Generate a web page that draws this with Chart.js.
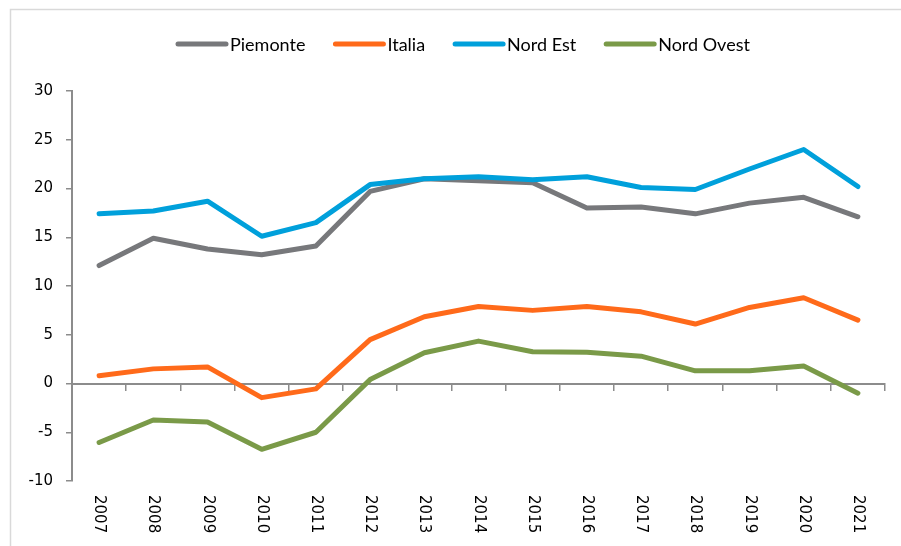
<!DOCTYPE html>
<html>
<head>
<meta charset="utf-8">
<script src="https://cdn.jsdelivr.net/npm/chart.js@4/dist/chart.umd.min.js"></script>
<style>
  body { margin: 0; background: #fff; }
  #box { width: 901px; height: 546px; position: relative; }
</style>
</head>
<body>
<div id="box"><canvas id="grafico"></canvas></div>
<script>
// anni e serie
var anni = ['2007','2008','2009','2010','2011','2012','2013','2014','2015','2016','2017','2018','2019','2020','2021'];
var piemonte  = [12.1, 14.9, 13.8, 13.2, 14.1, 19.7, 21.0, 20.8, 20.6, 18.0, 18.1, 17.4, 18.5, 19.1, 17.1];
var italia    = [0.8, 1.5, 1.7, -1.45, -0.55, 4.5, 6.85, 7.9, 7.5, 7.9, 7.35, 6.1, 7.8, 8.8, 6.5];
var nordEst   = [17.4, 17.7, 18.7, 15.1, 16.5, 20.4, 21.0, 21.2, 20.9, 21.2, 20.1, 19.9, 22.0, 24.0, 20.2];
var nordOvest = [-6.05, -3.75, -3.95, -6.75, -5.0, 0.4, 3.15, 4.35, 3.25, 3.2, 2.8, 1.3, 1.3, 1.8, -1.0];
var yMin = -10, yMax = 30, yStep = 5;

var coloreAsse = '#8c8c8c';

function serie(nome, dati, colore, ordine) {
    return {
        label: nome,
        data: dati,
        borderColor: colore,
        backgroundColor: colore,
        borderWidth: 5,
        borderCapStyle: 'round',
        borderJoinStyle: 'round',
        pointRadius: 0,
        pointHoverRadius: 0,
        tension: 0,
        order: ordine
    };
}

// cornice esterna grigia
var cornice = {
    id: 'cornice',
    beforeDraw: function(chart) {
        var ctx = chart.ctx;
        ctx.save();
        ctx.strokeStyle = '#d9d9d9';
        ctx.lineWidth = 1.5;
        ctx.strokeRect(10.5, 9.5, 1000, 1000);
        ctx.restore();
    }
};

// etichette asse x ruotate (lettura dall'alto in basso)
var etichetteX = {
    id: 'etichetteX',
    afterDraw: function(chart) {
        var ctx = chart.ctx;
        var x = chart.scales.x;
        ctx.save();
        ctx.font = '15px "DejaVu Sans"';
        ctx.fillStyle = '#000';
        ctx.textAlign = 'left';
        ctx.textBaseline = 'middle';
        anni.forEach(function(a, i) {
            ctx.save();
            ctx.translate(x.getPixelForValue(i), 495);
            ctx.rotate(Math.PI / 2);
            ctx.fillText(a, 0, 0);
            ctx.restore();
        });
        ctx.restore();
    }
};

// legenda in alto
var legenda = {
    id: 'legenda',
    afterDraw: function(chart) {
        var ctx = chart.ctx;
        var sx = 176, y = 44;
        ctx.save();
        ctx.font = '18px Lato';
        ctx.textBaseline = 'middle';
        ctx.textAlign = 'left';
        chart.data.datasets.forEach(function(ds) {
            ctx.strokeStyle = ds.borderColor;
            ctx.lineWidth = 5;
            ctx.lineCap = 'round';
            ctx.beginPath();
            ctx.moveTo(sx + 2, y);
            ctx.lineTo(sx + 50, y);
            ctx.stroke();
            ctx.fillStyle = '#000';
            ctx.fillText(ds.label, sx + 54, y + 1);
            sx += 54 + ctx.measureText(ds.label).width + 28;
        });
        ctx.restore();
    }
};

new Chart(document.getElementById('grafico').getContext('2d'), {
    type: 'line',
    data: {
        labels: anni,
        datasets: [
            serie('Piemonte', piemonte, '#77787b', 4),
            serie('Italia', italia, '#ff6a1a', 3),
            serie('Nord Est', nordEst, '#00a0db', 2),
            serie('Nord Ovest', nordOvest, '#7a9a48', 1)
        ]
    },
    options: {
        responsive: true,
        maintainAspectRatio: false,
        animation: false,
        layout: { padding: { left: 0, right: 16, top: 91, bottom: 65 } },
        plugins: {
            legend: { display: false },
            tooltip: { enabled: false }
        },
        scales: {
            x: {
                position: { y: 0 },
                offset: true,
                ticks: { display: false },
                grid: {
                    offset: true,
                    drawOnChartArea: false,
                    drawTicks: true,
                    tickLength: 6,
                    color: coloreAsse,
                    lineWidth: 1.5
                },
                border: { display: true, color: coloreAsse, width: 2 }
            },
            y: {
                min: yMin,
                max: yMax,
                afterFit: function(scale) { scale.width = 72; },
                ticks: {
                    stepSize: yStep,
                    padding: 13,
                    color: '#000',
                    font: { family: 'DejaVu Sans', size: 15 }
                },
                grid: {
                    drawOnChartArea: false,
                    drawTicks: true,
                    tickLength: 6,
                    color: coloreAsse,
                    lineWidth: 1.5
                },
                border: { display: true, color: coloreAsse, width: 2 }
            }
        }
    },
    plugins: [cornice, etichetteX, legenda]
});
</script>
</body>
</html>
